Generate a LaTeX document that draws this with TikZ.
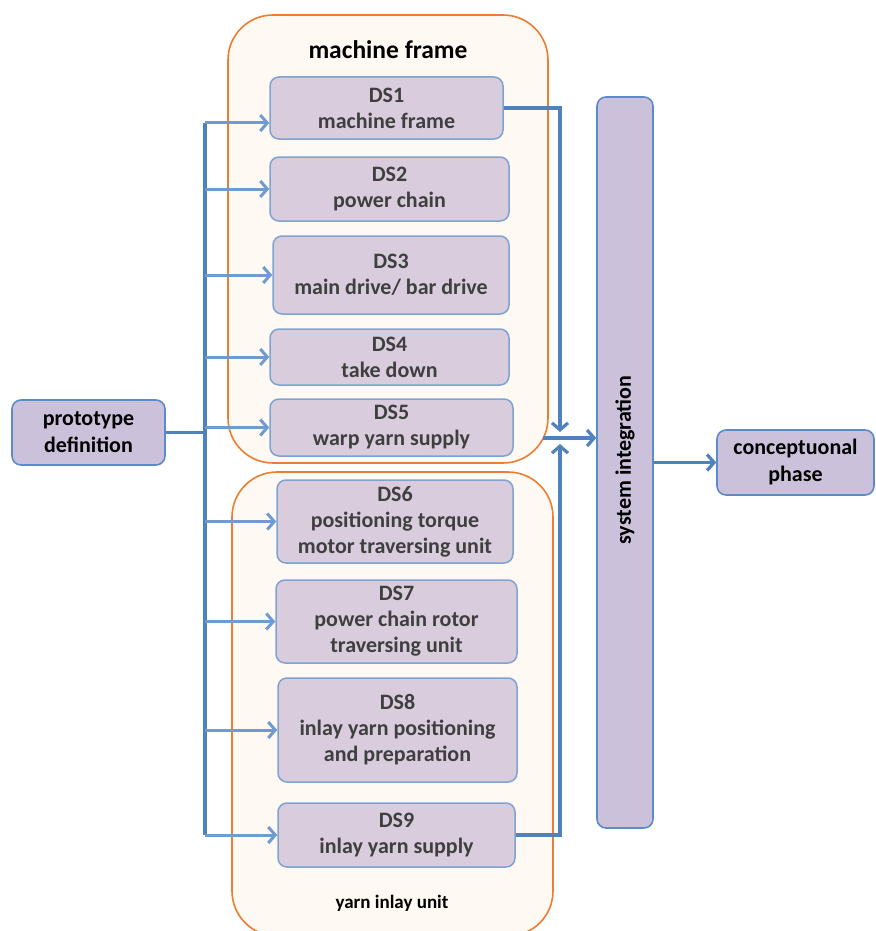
\documentclass[tikz,border=0pt]{standalone}
\usepackage{fontspec}
\setmainfont{Carlito}
\usetikzlibrary{arrows.meta,positioning,calc}
\definecolor{grpfill}{HTML}{FFF9F4}
\definecolor{grpline}{HTML}{ED7D31}
\definecolor{dsfill}{HTML}{D9CDDD}
\definecolor{keyfill}{HTML}{CCC1DA}
\definecolor{dsline}{HTML}{7EA3D0}
\definecolor{keyline}{HTML}{5B8BC9}
\definecolor{trunkblue}{HTML}{4F81BD}
\definecolor{branchblue}{HTML}{6F9BD1}
\definecolor{dstext}{HTML}{3F3F3F}
\tikzset{
  group/.style={draw=grpline,fill=grpfill,line width=1.6pt,rounded corners=45pt},
  dsbox/.style={draw=dsline,fill=dsfill,line width=1.5pt,rounded corners=9pt,
                align=center,inner sep=2pt,text=dstext,
                font=\bfseries\fontsize{22}{26}\selectfont},
  keybox/.style={draw=keyline,fill=keyfill,line width=1.6pt,rounded corners=9pt,
                 align=center,inner sep=2pt,
                 font=\bfseries\fontsize{22}{27}\selectfont},
  grptitle/.style={font=\bfseries\fontsize{25.5}{30}\selectfont},
  grpnote/.style={font=\bfseries\fontsize{19}{22}\selectfont},
  trunk/.style={draw=trunkblue,line width=3.2pt},
  trunkarr/.style={trunk,-{Straight Barb[length=7pt,width=16pt]}},
  branch/.style={draw=branchblue,line width=3pt,
                 -{Straight Barb[length=7pt,width=16pt]}}
}
\begin{document}
\begin{tikzpicture}[x=1pt,y=-1pt]
  \useasboundingbox (0,0) rectangle (875,931);
  % groups
  \node[group,minimum width=320pt,minimum height=448pt] (mf) at (388,239) {};
  \node[group,minimum width=321pt,minimum height=464pt] (yi) at (392.5,704) {};
  \node[grptitle] (mftitle) at (388,50) {machine frame};
  \node[grpnote] (yinote) at (392,903) {yarn inlay unit};

  % design steps
  \node[dsbox,minimum width=233pt,minimum height=62pt] (ds1) at (386.5,108) {DS1\\machine frame};
  \node[dsbox,minimum width=239pt,minimum height=64pt] (ds2) at (389.5,189) {DS2\\power chain};
  \node[dsbox,minimum width=236pt,minimum height=78pt] (ds3) at (391,275) {DS3\\main drive/ bar drive};
  \node[dsbox,minimum width=239pt,minimum height=56pt] (ds4) at (389.5,357) {DS4\\take down};
  \node[dsbox,minimum width=243pt,minimum height=57pt] (ds5) at (391.5,427.5) {DS5\\warp yarn supply};
  \node[dsbox,minimum width=236pt,minimum height=83pt] (ds6) at (395,521.5) {DS6\\positioning torque\\motor traversing unit};
  \node[dsbox,minimum width=241pt,minimum height=83pt] (ds7) at (396.5,621.5) {DS7\\power chain rotor\\traversing unit};
  \node[dsbox,minimum width=239pt,minimum height=104pt] (ds8) at (397.5,730) {DS8\\inlay yarn positioning\\and preparation};
  \node[dsbox,minimum width=237pt,minimum height=64pt] (ds9) at (396.5,835) {DS9\\inlay yarn supply};

  % outer blocks
  \node[keybox,minimum width=153pt,minimum height=65pt] (proto) at (88.5,432.5) {prototype\\definition};
  \node[keybox,minimum width=56pt,minimum height=731pt] (sysint) at (625,462.5) {};
  \node[rotate=90,font=\bfseries\fontsize{22}{26}\selectfont] (sitext) at (625,460) {system integration};
  \node[keybox,minimum width=157pt,minimum height=65pt] (concept) at (795.5,462.5) {conceptuonal\\phase};

  % distribution
  \coordinate (trtop) at (205,123);
  \coordinate (trbot) at (205,835);
  \draw[trunk] (trtop) -- (trbot);
  \draw[trunk] (proto.east) -- (proto.east -| trtop);
  \draw[branch] (trtop) -- ([yshift=-15pt]ds1.west);
  \foreach \i in {2,...,9}
    \draw[branch] (ds\i.west -| trtop) -- (ds\i.west);

  % collection
  \coordinate (jnA) at (560,432);
  \coordinate (jnB) at (560,444);
  \coordinate (jnC) at (543,438);
  \draw[trunkarr] (ds1.east) -| (jnA);
  \draw[trunkarr] (ds9.east) -| (jnB);
  \draw[trunkarr] (jnC) -- (jnC -| sysint.west);
  \draw[trunkarr] (sysint.east) -- (concept.west);
\end{tikzpicture}
\end{document}
